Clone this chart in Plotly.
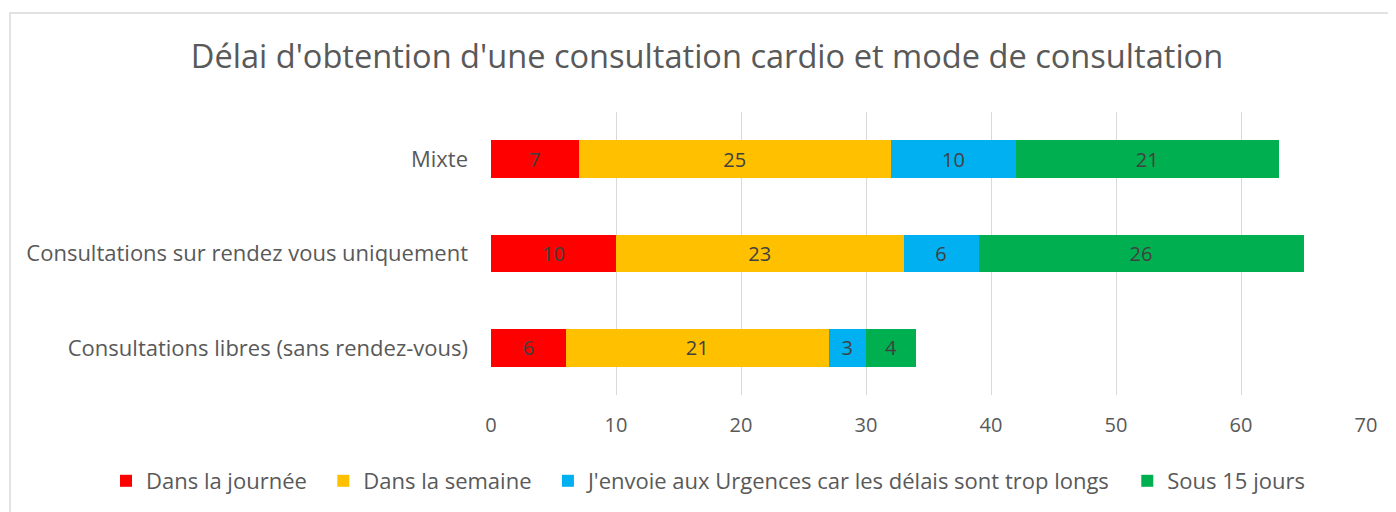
import plotly.graph_objects as go

categories = ["Consultations libres (sans rendez-vous)", "Consultations sur rendez vous uniquement", "Mixte"]
series_names = ["Dans la journée", "Dans la semaine", "J'envoie aux Urgences car les délais sont trop longs", "Sous 15 jours"]
dans_journee = [6, 10, 7]
dans_semaine = [21, 23, 25]
urgences = [3, 6, 10]
sous_15 = [4, 26, 21]
colors = ["#FF0000", "#FFC000", "#00B0F0", "#00B050"]
x_ticks = [0, 10, 20, 30, 40, 50, 60, 70]

FONT = "Open Sans"
PAD = "\u00a0\u00a0"  # invisible spacing between legend entries
fig = go.Figure()
all_vals = [dans_journee, dans_semaine, urgences, sous_15]
for i, (name, vals, col) in enumerate(zip(series_names, all_vals, colors)):
    fig.add_trace(go.Bar(
        y=categories, x=vals, name=name + (PAD if i < len(series_names) - 1 else ""),
        orientation="h",
        marker=dict(color=col, line=dict(width=0)),
        text=vals, textposition="inside", insidetextanchor="middle",
        textfont=dict(color="#404040", size=20, family=FONT),
        cliponaxis=False,
    ))

# figure pixel coords (page has an 8px body offset)
L, R, T, B = 483, 1358, 104, 387
W, H = 1396, 512
def px(x):
    return (x - L) / (R - L)
def py(y):
    return (B - y) / (B - T)

fig.update_layout(
    width=W, height=H,
    barmode="stack", bargap=0.6,
    margin=dict(l=L, r=W - R, t=T, b=H - B, pad=0, autoexpand=False),
    paper_bgcolor="white", plot_bgcolor="white",
    title=dict(text="Délai d'obtention d'une consultation cardio et mode de consultation",
               x=699 / W, xref="container", xanchor="center", y=1 - 49 / H, yref="container", yanchor="middle",
               font=dict(family=FONT, size=32.6, color="#595959")),
    xaxis=dict(range=[0, 70], tickvals=x_ticks, showgrid=True, gridcolor="#D9D9D9", gridwidth=1,
               zeroline=False, showline=False, ticks="", automargin=False, ticklabelstandoff=16,
               tickfont=dict(family=FONT, size=20, color="#595959")),
    yaxis=dict(showgrid=False, showline=False, ticks="", automargin=False, ticklabelstandoff=22,
               tickfont=dict(family=FONT, size=22, color="#595959")),
    legend=dict(orientation="h", xref="paper", x=px(98), xanchor="left",
                yref="paper", y=py(473), yanchor="middle",
                font=dict(family=FONT, size=22, color="#595959"), traceorder="normal",
                itemwidth=30, bgcolor="rgba(0,0,0,0)"),
    showlegend=True,
    shapes=[dict(type="rect", xref="paper", yref="paper",
                 x0=px(2), x1=px(1400), y0=py(520), y1=py(5),
                 line=dict(color="#D9D9D9", width=1.5), fillcolor="rgba(0,0,0,0)", layer="below")],
)
fig.write_html("out.html")
